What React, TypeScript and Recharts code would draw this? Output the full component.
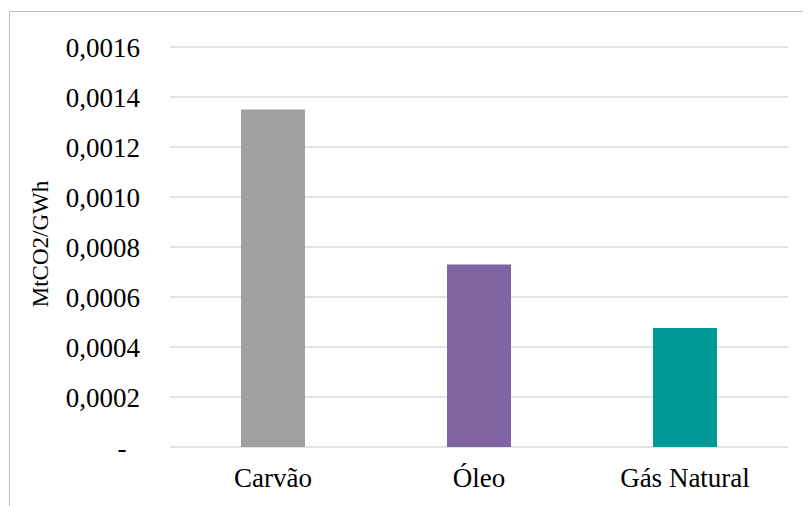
import { BarChart, Bar, XAxis, YAxis, CartesianGrid, Cell } from "recharts";

const fuels = ["Carvão", "Óleo", "Gás Natural"];
const emissions = [0.00135, 0.00073, 0.000476];
const barColors = ["#a0a0a0", "#8064a2", "#009999"];
const yTicks = [0, 0.0002, 0.0004, 0.0006, 0.0008, 0.001, 0.0012, 0.0014, 0.0016];

const data = fuels.map((name, i) => ({ name, value: emissions[i] }));

const font = "'Liberation Serif', 'Times New Roman', serif";

// excel-style: zero shows as a dash, comma decimal
const fmtTick = (v: number) =>
  v === 0 ? "-\u00a0\u00a0" : v.toFixed(4).replace(".", ",");

export default function App() {
  return (
    <div style={{ position: "relative", width: 803, height: 498 }}>
      <div
        style={{
          position: "absolute",
          left: 1,
          top: 3,
          width: 802,
          height: 495,
          borderTop: "1px solid #bfbfbf",
          borderLeft: "1px solid #bfbfbf",
        }}
      />
      <div style={{ position: "absolute", left: 0, top: 0 }}>
        <BarChart
          width={803}
          height={498}
          data={data}
          margin={{ top: 39, right: 23, left: 0, bottom: 0 }}
        >
          <CartesianGrid vertical={false} stroke="#d9d9d9" strokeWidth={1.5} />
          <XAxis
            dataKey="name"
            height={59}
            axisLine={false}
            tickLine={false}
            tickSize={0}
            tickMargin={21}
            tick={{ fontSize: 27, fill: "#000", fontFamily: font }}
          />
          <YAxis
            width={162}
            domain={[0, 0.0016]}
            ticks={yTicks}
            interval={0}
            axisLine={false}
            tickLine={false}
            tickSize={0}
            tickMargin={30}
            tickFormatter={fmtTick}
            tick={{ fontSize: 27, fill: "#000", fontFamily: font }}
            label={({ viewBox }: any) => {
              const x = viewBox.x + 32;
              const y = viewBox.y + viewBox.height / 2 - 3;
              return (
                <text
                  x={x}
                  y={y}
                  transform={`rotate(-90, ${x}, ${y})`}
                  textAnchor="middle"
                  dominantBaseline="central"
                  fontSize={23}
                  fontFamily={font}
                  fill="#000"
                >
                  MtCO2/GWh
                </text>
              );
            }}
          />
          <Bar dataKey="value" barSize={64} isAnimationActive={false}>
            {data.map((d, i) => (
              <Cell key={d.name} fill={barColors[i]} />
            ))}
          </Bar>
        </BarChart>
      </div>
    </div>
  );
}
